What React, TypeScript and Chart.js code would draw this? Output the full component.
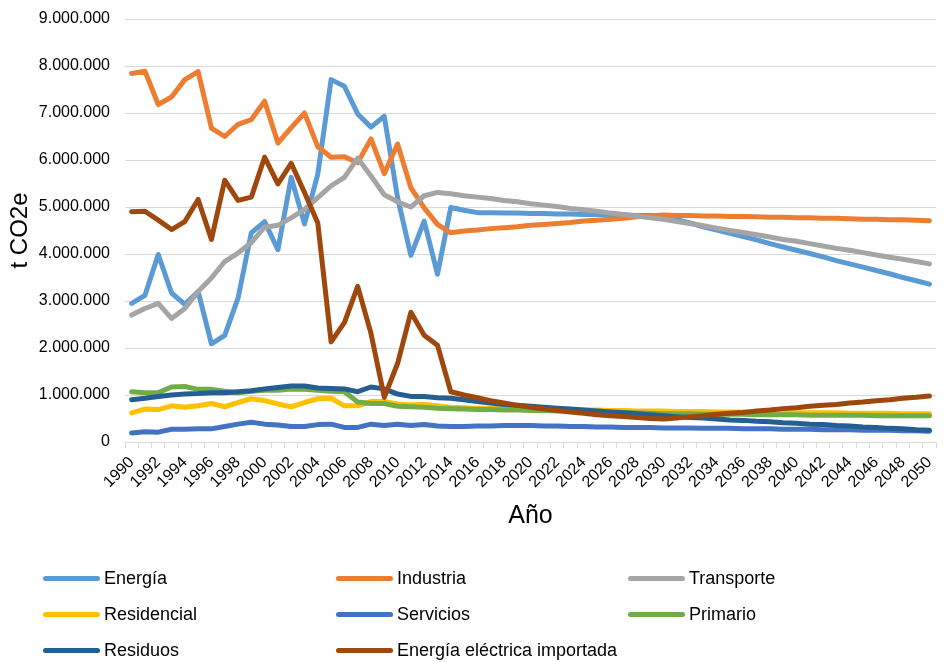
import React, { useEffect, useRef } from "react";
import { Chart, registerables } from "chart.js";

Chart.register(...registerables);

const YEARS: string[] = [];
for (let y = 1990; y <= 2050; y++) YEARS.push(String(y));

// values in millions of t CO2e
const ENERGIA = [
  2.95, 3.12, 3.99, 3.17, 2.93, 3.2, 2.09, 2.27, 3.06, 4.45,
  4.69, 4.09, 5.63, 4.64, 5.7, 7.71, 7.57, 6.98, 6.7, 6.93,
  5.2, 3.97, 4.7, 3.57, 4.99, 4.93, 4.88, 4.88, 4.87, 4.87,
  4.86, 4.86, 4.85, 4.85, 4.84, 4.84, 4.83, 4.83, 4.82, 4.82,
  4.8, 4.73, 4.66, 4.58, 4.51, 4.44, 4.37, 4.3, 4.22, 4.15,
  4.08, 4.01, 3.94, 3.86, 3.79, 3.72, 3.65, 3.58, 3.5, 3.43,
  3.36,
];
const INDUSTRIA = [
  7.84, 7.89, 7.18, 7.34, 7.71, 7.88, 6.68, 6.5, 6.76, 6.86,
  7.25, 6.36, 6.69, 7.0, 6.28, 6.06, 6.07, 5.94, 6.45, 5.71,
  6.34, 5.41, 4.98, 4.63, 4.45, 4.49, 4.51, 4.54, 4.56, 4.58,
  4.61, 4.63, 4.65, 4.67, 4.7, 4.72, 4.74, 4.76, 4.79, 4.81,
  4.83, 4.82, 4.82, 4.81, 4.81, 4.8, 4.8, 4.79, 4.78, 4.78,
  4.77, 4.77, 4.76, 4.76, 4.75, 4.74, 4.74, 4.73, 4.73, 4.72,
  4.71,
];
const TRANSPORTE = [
  2.7, 2.84, 2.95, 2.63, 2.84, 3.2, 3.49, 3.84, 4.02, 4.24,
  4.57, 4.61, 4.77, 4.95, 5.2, 5.45, 5.63, 6.04, 5.66, 5.26,
  5.11, 5.0, 5.24, 5.31, 5.28, 5.24, 5.21, 5.18, 5.14, 5.11,
  5.07, 5.04, 5.01, 4.97, 4.94, 4.91, 4.87, 4.84, 4.81, 4.77,
  4.74, 4.69, 4.65, 4.6, 4.55, 4.5, 4.46, 4.41, 4.36, 4.31,
  4.27, 4.22, 4.17, 4.12, 4.08, 4.03, 3.98, 3.93, 3.89, 3.84,
  3.79,
];
const RESIDENCIAL = [
  0.62, 0.7, 0.69, 0.77, 0.74, 0.77, 0.82, 0.75, 0.84, 0.92,
  0.88, 0.81, 0.75, 0.84, 0.92, 0.93, 0.77, 0.77, 0.86, 0.86,
  0.81, 0.79, 0.8, 0.77, 0.74, 0.73, 0.72, 0.72, 0.71, 0.71,
  0.7, 0.7, 0.69, 0.69, 0.68, 0.68, 0.67, 0.67, 0.66, 0.66,
  0.66, 0.65, 0.65, 0.65, 0.64, 0.64, 0.64, 0.63, 0.63, 0.63,
  0.62, 0.62, 0.62, 0.62, 0.61, 0.61, 0.61, 0.61, 0.6, 0.6,
  0.6,
];
const SERVICIOS = [
  0.19, 0.22, 0.21, 0.27, 0.27, 0.28, 0.28, 0.33, 0.38, 0.42,
  0.38, 0.36, 0.33, 0.33, 0.37, 0.38, 0.31, 0.31, 0.38, 0.35,
  0.38, 0.35, 0.37, 0.34, 0.33, 0.33, 0.34, 0.34, 0.35, 0.35,
  0.35, 0.34, 0.34, 0.33, 0.33, 0.32, 0.32, 0.31, 0.31, 0.31,
  0.3, 0.3, 0.3, 0.29, 0.29, 0.29, 0.28, 0.28, 0.28, 0.27,
  0.27, 0.27, 0.26, 0.26, 0.26, 0.25, 0.25, 0.25, 0.24, 0.24,
  0.23,
];
const PRIMARIO = [
  1.07, 1.05, 1.05, 1.17, 1.18, 1.12, 1.12, 1.08, 1.05, 1.08,
  1.1, 1.1, 1.13, 1.12, 1.1, 1.08, 1.07, 0.85, 0.82, 0.82,
  0.76, 0.75, 0.74, 0.72, 0.71, 0.7, 0.69, 0.69, 0.68, 0.68,
  0.67, 0.67, 0.66, 0.66, 0.65, 0.65, 0.64, 0.63, 0.62, 0.61,
  0.6, 0.6, 0.6, 0.59, 0.59, 0.59, 0.59, 0.58, 0.58, 0.58,
  0.58, 0.57, 0.57, 0.57, 0.57, 0.57, 0.56, 0.56, 0.56, 0.56,
  0.56,
];
const RESIDUOS = [
  0.9, 0.93, 0.97, 1.0, 1.02, 1.03, 1.05, 1.05, 1.07, 1.09,
  1.13, 1.16, 1.19, 1.19, 1.15, 1.14, 1.13, 1.07, 1.17, 1.13,
  1.02, 0.97, 0.97, 0.94, 0.93, 0.9, 0.86, 0.83, 0.8, 0.78,
  0.76, 0.74, 0.72, 0.7, 0.68, 0.66, 0.64, 0.62, 0.6, 0.58,
  0.56, 0.54, 0.52, 0.51, 0.49, 0.47, 0.46, 0.44, 0.43, 0.41,
  0.4, 0.38, 0.37, 0.35, 0.34, 0.32, 0.31, 0.29, 0.28, 0.26,
  0.25,
];
const IMPORTADA = [
  4.9, 4.91, 4.72, 4.52, 4.69, 5.16, 4.31, 5.57, 5.14, 5.21,
  6.06, 5.49, 5.93, 5.31, 4.66, 2.13, 2.54, 3.31, 2.31, 0.95,
  1.67, 2.76, 2.27, 2.06, 1.07, 1.0, 0.94, 0.88, 0.83, 0.78,
  0.74, 0.7, 0.67, 0.64, 0.61, 0.58, 0.56, 0.54, 0.52, 0.5,
  0.49, 0.51, 0.54, 0.56, 0.59, 0.61, 0.63, 0.66, 0.68, 0.71,
  0.73, 0.76, 0.78, 0.8, 0.83, 0.85, 0.88, 0.9, 0.93, 0.95,
  0.98,
];

const Y_TICKS = [0, 1, 2, 3, 4, 5, 6, 7, 8, 9]; // millions

const SERIES = [
  { label: "Energía", data: ENERGIA, color: "#5B9BD5" },
  { label: "Industria", data: INDUSTRIA, color: "#ED7D31" },
  { label: "Transporte", data: TRANSPORTE, color: "#A5A5A5" },
  { label: "Residencial", data: RESIDENCIAL, color: "#FFC000" },
  { label: "Servicios", data: SERVICIOS, color: "#4472C4" },
  { label: "Primario", data: PRIMARIO, color: "#70AD47" },
  { label: "Residuos", data: RESIDUOS, color: "#255E91" },
  { label: "Energía eléctrica importada", data: IMPORTADA, color: "#9E480E" },
];

const FONT = '"Liberation Sans", Arial, Helvetica, sans-serif';

const fmt = (v: number) =>
  String(Math.round(v)).replace(/\B(?=(\d{3})+(?!\d))/g, ".");

export default function App() {
  const ref = useRef<HTMLCanvasElement | null>(null);

  useEffect(() => {
    if (!ref.current) return;
    const n = SERIES.length;
    const chart = new Chart(ref.current, {
      type: "line",
      data: {
        labels: YEARS,
        datasets: SERIES.map((s, i) => ({
          label: s.label,
          data: s.data.map((v) => v * 1000000),
          borderColor: s.color,
          backgroundColor: s.color,
          borderWidth: 5,
          pointRadius: 0,
          pointHoverRadius: 0,
          tension: 0,
          fill: false,
          borderCapStyle: "round",
          borderJoinStyle: "round",
          order: n - 1 - i,
        })),
      },
      options: {
        responsive: false,
        animation: false,
        devicePixelRatio: 1,
        layout: { padding: { top: 19, bottom: 126, left: 0, right: 0 } },
        plugins: {
          legend: { display: false },
          tooltip: { enabled: false },
        },
        scales: {
          x: {
            type: "category",
            offset: true,
            grid: {
              offset: true,
              drawOnChartArea: false,
              drawTicks: true,
              tickLength: 6,
              color: "#d9d9d9",
            },
            border: { display: true, color: "#d9d9d9", width: 1 },
            ticks: {
              autoSkip: false,
              maxRotation: 45,
              minRotation: 45,
              padding: 5,
              color: "#000",
              font: { family: FONT, size: 16 },
              callback: (_v: any, i: number) => (i % 2 === 0 ? YEARS[i] : ""),
            },
            title: {
              display: true,
              text: "Año",
              color: "#000",
              font: { family: FONT, size: 25 },
              padding: { top: 0, bottom: 5 },
            },
            afterFit: (s: any) => {
              s.height = 94;
            },
          },
          y: {
            min: 0,
            max: Y_TICKS[Y_TICKS.length - 1] * 1000000,
            afterBuildTicks: (s: any) => {
              s.ticks = Y_TICKS.map((t) => ({ value: t * 1000000 }));
            },
            grid: {
              color: "#d9d9d9",
              drawTicks: true,
              tickLength: 15,
              tickColor: "rgba(0,0,0,0)",
              lineWidth: 1,
            },
            border: { display: false },
            ticks: {
              padding: 0,
              color: "#000",
              font: { family: FONT, size: 16 },
              callback: (v: any) => fmt(Number(v)),
            },
            title: {
              display: true,
              text: "t CO2e",
              color: "#000",
              font: { family: FONT, size: 24 },
              padding: { top: 6, bottom: 0 },
            },
            afterFit: (s: any) => {
              s.width = 125;
            },
          },
        },
      },
    });
    return () => chart.destroy();
  }, []);

  const colX = [43, 336, 628];
  const rowY = [578, 614, 650];

  return (
    <div
      style={{
        position: "fixed",
        left: 0,
        top: 0,
        width: 948,
        height: 662,
        background: "#fff",
        overflow: "hidden",
      }}
    >
      <canvas ref={ref} width={948} height={662} style={{ width: 948, height: 662, display: "block" }} />
      {SERIES.map((s, i) => {
        const c = i % 3;
        const r = Math.floor(i / 3);
        return (
          <div
            key={s.label}
            style={{
              position: "absolute",
              left: colX[c],
              top: rowY[r] - 12,
              height: 24,
              display: "flex",
              alignItems: "center",
              fontFamily: FONT,
              fontSize: 18,
              color: "#000",
              whiteSpace: "nowrap",
            }}
          >
            <span
              style={{
                display: "inline-block",
                width: 57,
                height: 5,
                borderRadius: 3,
                background: s.color,
                marginRight: 4,
              }}
            />
            <span>{s.label}</span>
          </div>
        );
      })}
    </div>
  );
}
